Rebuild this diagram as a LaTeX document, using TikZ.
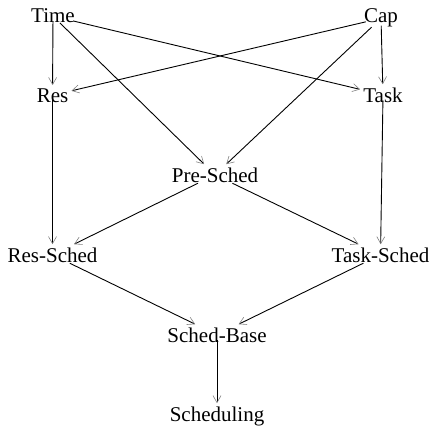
\documentclass[tikz,border=0pt]{standalone}
\usepackage{fontspec}
\setmainfont{Liberation Serif}
\usetikzlibrary{arrows.meta}
\begin{document}
\begin{tikzpicture}[x=1pt, y=-1pt,
  mod/.style={anchor=base, inner sep=3pt, font=\fontsize{21}{25}\selectfont},
  dep/.style={line width=0.9pt, shorten <=-5pt, -{Straight Barb[length=7pt, width=8pt, line width=0.6pt, color=gray]}}]
\useasboundingbox (0,0) rectangle (430,428);
\node [mod] (time) at (53,23) {Time};
\node [mod] (cap) at (381,23) {Cap};
\node [mod] (res) at (52.5,102) {Res};
\node [mod] (task) at (383,102) {Task};
\node [mod] (pre) at (215,182) {Pre-Sched};
\node [mod] (ressched) at (52.5,262) {Res-Sched};
\node [mod] (tasksched) at (380.5,262) {Task-Sched};
\node [mod] (base) at (217,342) {Sched-Base};
\node [mod] (sched) at (217,421) {Scheduling};
\draw [dep] (time) -- (res);
\draw [dep] (time) -- (task);
\draw [dep] (time) -- (pre);
\draw [dep] (cap) -- (res);
\draw [dep] (cap) -- (task);
\draw [dep] (cap) -- (pre);
\draw [dep] (res) -- (ressched);
\draw [dep] (task) -- (tasksched);
\draw [dep] (pre) -- (ressched);
\draw [dep] (pre) -- (tasksched);
\draw [dep] (ressched) -- (base);
\draw [dep] (tasksched) -- (base);
\draw [dep] (base) -- (sched);
\end{tikzpicture}
\end{document}
